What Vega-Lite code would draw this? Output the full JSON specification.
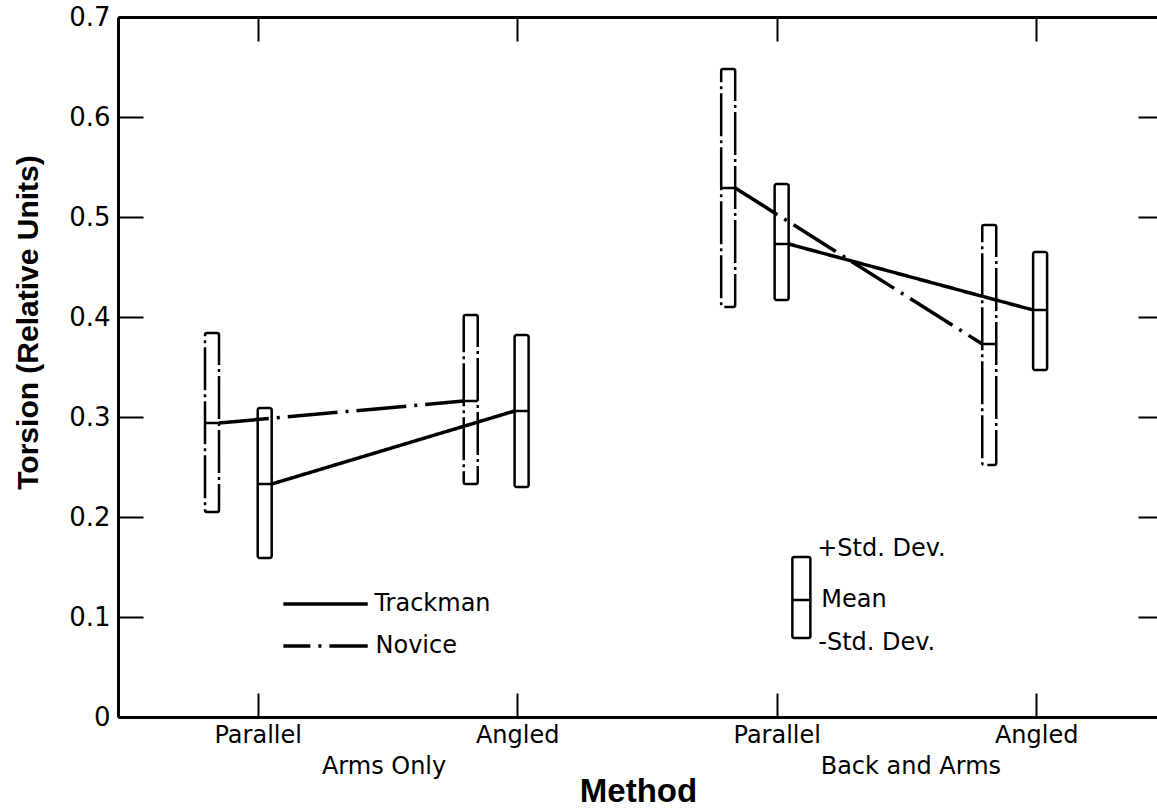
{
  "$schema": "https://vega.github.io/schema/vega-lite/v6.json",
  "width": 1040,
  "height": 700,
  "autosize": {"type": "none"},
  "padding": {"left": 118, "top": 17, "right": 0, "bottom": 91},
  "background": "white",
  "config": {
    "view": {"stroke": null},
    "font": "DejaVu Sans",
    "axis": {"grid": false, "domainColor": "black", "tickColor": "black", "labelColor": "black", "titleColor": "black", "domainWidth": 3, "tickWidth": 2}
  },
  "datasets": {
    "boxes": [
      {"group": "Novice", "cond": "Arms Only / Parallel", "x": 0.824, "lo": 0.205, "mean": 0.294, "hi": 0.384},
      {"group": "Trackman", "cond": "Arms Only / Parallel", "x": 1.027, "lo": 0.159, "mean": 0.233, "hi": 0.309},
      {"group": "Novice", "cond": "Arms Only / Angled", "x": 1.821, "lo": 0.233, "mean": 0.316, "hi": 0.402},
      {"group": "Trackman", "cond": "Arms Only / Angled", "x": 2.017, "lo": 0.23, "mean": 0.306, "hi": 0.382},
      {"group": "Novice", "cond": "Back and Arms / Parallel", "x": 2.813, "lo": 0.41, "mean": 0.529, "hi": 0.648},
      {"group": "Trackman", "cond": "Back and Arms / Parallel", "x": 3.019, "lo": 0.417, "mean": 0.473, "hi": 0.533},
      {"group": "Novice", "cond": "Back and Arms / Angled", "x": 3.819, "lo": 0.252, "mean": 0.373, "hi": 0.492},
      {"group": "Trackman", "cond": "Back and Arms / Angled", "x": 4.015, "lo": 0.347, "mean": 0.407, "hi": 0.465}
    ],
    "lines": [
      {"series": "Novice", "seg": "N1", "x": 0.851, "y": 0.294},
      {"series": "Novice", "seg": "N1", "x": 1.794, "y": 0.316},
      {"series": "Trackman", "seg": "T1", "x": 1.054, "y": 0.233},
      {"series": "Trackman", "seg": "T1", "x": 1.99, "y": 0.306},
      {"series": "Novice", "seg": "N2", "x": 2.84, "y": 0.529},
      {"series": "Novice", "seg": "N2", "x": 3.792, "y": 0.373},
      {"series": "Trackman", "seg": "T2", "x": 3.046, "y": 0.473},
      {"series": "Trackman", "seg": "T2", "x": 3.988, "y": 0.407}
    ]
  },
  "layer": [
    {
      "data": {"name": "boxes"},
      "mark": {"type": "bar", "orient": "vertical", "width": 14, "filled": false, "stroke": "black", "strokeWidth": 2.5, "cornerRadius": 2},
      "encoding": {
        "x": {"field": "x", "type": "quantitative", "scale": {"domain": [0.481, 4.45], "nice": false, "zero": false},
          "axis": {"orient": "bottom", "values": [1, 2, 3, 4], "labelExpr": "datum.value == 1 || datum.value == 3 ? 'Parallel' : 'Angled'", "tickSize": -24, "labelPadding": 30, "labelFontSize": 24, "labelFont": "DejaVu Sans",
            "title": "Method", "titleFont": "Liberation Sans", "titleFontWeight": "bold", "titleFontSize": 33, "titleX": 520, "titleY": 84, "titleAlign": "center", "titleBaseline": "alphabetic"}},
        "y": {"field": "lo", "type": "quantitative", "scale": {"domain": [0, 0.7], "nice": false, "zero": false},
          "axis": {"orient": "left", "values": [0, 0.1, 0.2, 0.3, 0.4, 0.5, 0.6, 0.7], "labelExpr": "datum.value == 0 ? '0' : format(datum.value, '.1f')", "tickSize": -25, "labelPadding": 33, "labelFontSize": 26, "labelFont": "DejaVu Sans",
            "title": "Torsion (Relative Units)", "titleFont": "Liberation Sans", "titleFontWeight": "bold", "titleFontSize": 30, "titleX": -90, "titleY": 305, "titleAngle": 270, "titleAlign": "center", "titleBaseline": "middle"}},
        "y2": {"field": "hi"},
        "strokeDash": {"field": "group", "type": "nominal", "scale": {"domain": ["Novice", "Trackman"], "range": [[43, 4, 3, 4], [1, 0]]}, "legend": null}
      }
    },
    {
      "data": {"name": "boxes"},
      "mark": {"type": "tick", "orient": "horizontal", "size": 14, "thickness": 2.5, "color": "black", "opacity": 1},
      "encoding": {
        "x": {"field": "x", "type": "quantitative", "scale": {"domain": [0.481, 4.45], "nice": false, "zero": false},
          "axis": {"orient": "top", "values": [1, 2, 3, 4], "labels": false, "tickSize": -24, "title": null}},
        "y": {"field": "mean", "type": "quantitative", "scale": {"domain": [0, 0.7], "nice": false, "zero": false},
          "axis": {"orient": "right", "values": [0.1, 0.2, 0.3, 0.4, 0.5, 0.6], "labels": false, "domain": false, "tickSize": -20, "title": null}}
      }
    },
    {
      "data": {"name": "lines"},
      "mark": {"type": "line", "strokeWidth": 3.5, "color": "black"},
      "encoding": {
        "x": {"field": "x", "type": "quantitative", "scale": {"domain": [0.481, 4.45], "nice": false, "zero": false}, "axis": null},
        "y": {"field": "y", "type": "quantitative", "scale": {"domain": [0, 0.7], "nice": false, "zero": false}, "axis": null},
        "detail": {"field": "seg"},
        "strokeDash": {"field": "series", "type": "nominal", "scale": {"domain": ["Novice", "Trackman"], "range": [[50, 8, 3, 8], [1, 0]]}, "legend": null}
      }
    },
    {
      "data": {"values": [{"series": "Trackman", "x": 1.099, "y": 0.113}, {"series": "Trackman", "x": 1.424, "y": 0.113}]},
      "mark": {"type": "line", "strokeWidth": 3.5, "color": "black"},
      "encoding": {
        "x": {"field": "x", "type": "quantitative", "scale": {"domain": [0.481, 4.45], "nice": false, "zero": false}, "axis": null},
        "y": {"field": "y", "type": "quantitative", "scale": {"domain": [0, 0.7], "nice": false, "zero": false}, "axis": null}
      }
    },
    {
      "data": {"values": [{"series": "Novice", "x": 1.099, "y": 0.071}, {"series": "Novice", "x": 1.424, "y": 0.071}]},
      "mark": {"type": "line", "strokeWidth": 3.5, "color": "black", "strokeDash": [50, 8, 3, 8], "strokeDashOffset": 23},
      "encoding": {
        "x": {"field": "x", "type": "quantitative", "scale": {"domain": [0.481, 4.45], "nice": false, "zero": false}, "axis": null},
        "y": {"field": "y", "type": "quantitative", "scale": {"domain": [0, 0.7], "nice": false, "zero": false}, "axis": null}
      }
    },
    {
      "data": {"values": [
        {"label": "Trackman", "x": 1.45, "y": 0.113},
        {"label": "Novice", "x": 1.454, "y": 0.071},
        {"label": "+Std. Dev.", "x": 3.156, "y": 0.168},
        {"label": "Mean", "x": 3.172, "y": 0.117},
        {"label": "-Std. Dev.", "x": 3.16, "y": 0.074}
      ]},
      "mark": {"type": "text", "align": "left", "baseline": "middle", "fontSize": 24, "font": "DejaVu Sans", "color": "black"},
      "encoding": {
        "x": {"field": "x", "type": "quantitative", "scale": {"domain": [0.481, 4.45], "nice": false, "zero": false}, "axis": null},
        "y": {"field": "y", "type": "quantitative", "scale": {"domain": [0, 0.7], "nice": false, "zero": false}, "axis": null},
        "text": {"field": "label"}
      }
    },
    {
      "data": {"values": [{"x": 3.095, "lo": 0.079, "mean": 0.117, "hi": 0.16}]},
      "mark": {"type": "bar", "orient": "vertical", "width": 18, "filled": false, "stroke": "black", "strokeWidth": 2.5, "cornerRadius": 2},
      "encoding": {
        "x": {"field": "x", "type": "quantitative", "scale": {"domain": [0.481, 4.45], "nice": false, "zero": false}, "axis": null},
        "y": {"field": "lo", "type": "quantitative", "scale": {"domain": [0, 0.7], "nice": false, "zero": false}, "axis": null},
        "y2": {"field": "hi"}
      }
    },
    {
      "data": {"values": [{"x": 3.095, "mean": 0.117}]},
      "mark": {"type": "tick", "orient": "horizontal", "size": 18, "thickness": 2.5, "color": "black", "opacity": 1},
      "encoding": {
        "x": {"field": "x", "type": "quantitative", "scale": {"domain": [0.481, 4.45], "nice": false, "zero": false}, "axis": null},
        "y": {"field": "mean", "type": "quantitative", "scale": {"domain": [0, 0.7], "nice": false, "zero": false}, "axis": null}
      }
    },
    {
      "data": {"values": [{"label": "Arms Only", "x": 1.487, "y": -0.038}, {"label": "Back and Arms", "x": 3.517, "y": -0.038}]},
      "mark": {"type": "text", "align": "center", "baseline": "top", "fontSize": 24, "font": "DejaVu Sans", "color": "black"},
      "encoding": {
        "x": {"field": "x", "type": "quantitative", "scale": {"domain": [0.481, 4.45], "nice": false, "zero": false}, "axis": null},
        "y": {"field": "y", "type": "quantitative", "scale": {"domain": [0, 0.7], "nice": false, "zero": false}, "axis": null},
        "text": {"field": "label"}
      }
    }
  ],
  "resolve": {"axis": {"x": "independent", "y": "independent"}, "scale": {"strokeDash": "independent"}}
}
